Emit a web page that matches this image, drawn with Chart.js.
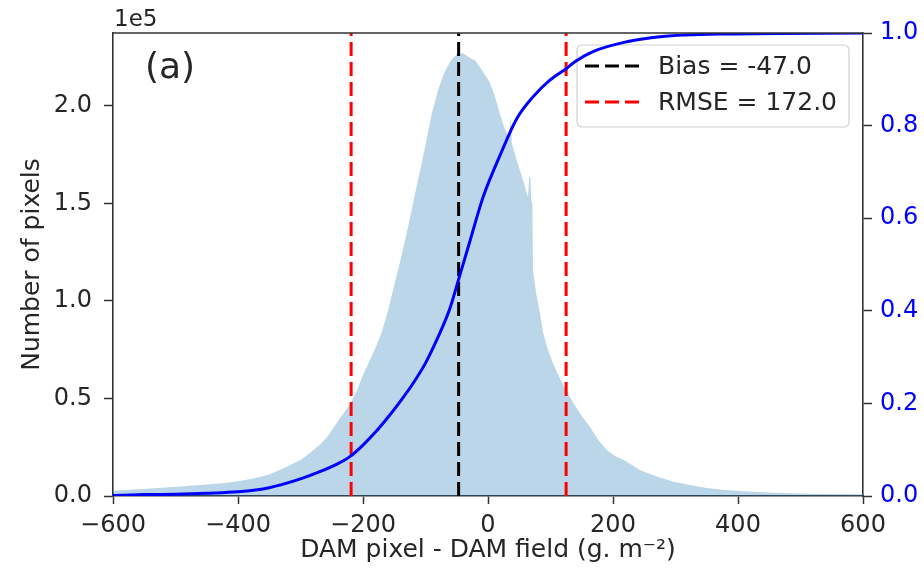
<!DOCTYPE html>
<html>
<head>
<meta charset="utf-8">
<script src="https://cdn.jsdelivr.net/npm/chart.js@4"></script>
<style>
html,body{margin:0;padding:0;background:#ffffff;}
#wrap{position:relative;width:924px;height:581px;}
</style>
</head>
<body>
<div id="wrap"><canvas id="c" width="924" height="581"></canvas></div>
<script>
// ---- data ----
const histX = [-600,-552,-498,-450,-425,-400,-375,-350,-325,-300,-285,-270,-258,-245,-232,-221,-210,-200,-190,-180,-170,-160,-150,-140,-130,-120,-110,-100,-90,-80,-70,-60,-50,-40,-30,-20,-13,-5,3,10,19,25,30,34,36,38,46,56,64,66,68,69,71,72,77,83,88,95,104,114,124,136,150,163,176,190,203,217,230,243,270,297,325,350,375,403,430,457,485,510,550,590,600];
const histY = [2700,3600,4800,5900,6500,7500,9000,11000,14500,18500,22000,26000,30000,36000,42000,47000,54000,62000,69000,76000,84000,95000,108000,121000,135000,150000,165000,180000,196000,208000,217000,223000,226500,227000,225000,223000,220000,216000,212000,206000,196000,190000,186000,183000,195000,181000,172000,162000,153000,164000,163000,152000,150000,116000,104000,94000,84000,76000,68000,61000,55000,48000,41000,35500,29000,23600,20500,18500,16000,13300,10000,7300,5500,4100,3200,2600,2100,1700,1400,1200,1000,900,800];
const cdfX = [-600,-550,-500,-450,-400,-350,-300,-270,-240,-221,-200,-180,-160,-140,-120,-100,-82,-61,-47,-29,-8,19,46,72,99,126,139,168,222,275,382,600];
const cdfY = [0.001,0.003,0.004,0.006,0.009,0.018,0.037,0.052,0.07,0.085,0.11,0.138,0.17,0.205,0.243,0.287,0.337,0.405,0.468,0.55,0.645,0.735,0.815,0.862,0.898,0.924,0.938,0.96,0.981,0.992,0.998,1.0];
const biasValue = -47.0;
const rmseValue = 172.0;
const xTicks = [-600,-400,-200,0,200,400,600];
const yTicks = [0,50000,100000,150000,200000];
const y2Ticks = [0,0.2,0.4,0.6,0.8,1.0];
const yMax = 237400;
const biasLabel = 'Bias = ' + biasValue.toFixed(1);
const rmseLabel = 'RMSE = ' + rmseValue.toFixed(1);

const FONT = "'DejaVu Sans', sans-serif";
const TXT = '#262626';

const histData = histX.map((x,i)=>({x:x,y:histY[i]}));
const cdfData = cdfX.map((x,i)=>({x:x,y:cdfY[i]}));
const biasData = [{x:biasValue,y:0},{x:biasValue,y:1}];
const rmseData = [
  {x:biasValue-rmseValue,y:0},{x:biasValue-rmseValue,y:1},
  {x:biasValue,y:null},
  {x:biasValue+rmseValue,y:0},{x:biasValue+rmseValue,y:1}
];

const overlay = {
  id:'overlay',
  beforeDatasetsDraw(chart){
    const ctx = chart.ctx, a = chart.chartArea;
    const bx = a.right - 286, by = a.top + 12, bw = 272, bh = 82, r = 5;
    ctx.save();
    ctx.beginPath();
    ctx.moveTo(bx+r,by); ctx.lineTo(bx+bw-r,by); ctx.arcTo(bx+bw,by,bx+bw,by+r,r);
    ctx.lineTo(bx+bw,by+bh-r); ctx.arcTo(bx+bw,by+bh,bx+bw-r,by+bh,r);
    ctx.lineTo(bx+r,by+bh); ctx.arcTo(bx,by+bh,bx,by+bh-r,r);
    ctx.lineTo(bx,by+r); ctx.arcTo(bx,by,bx+r,by,r);
    ctx.closePath();
    ctx.fillStyle='rgba(255,255,255,0.8)'; ctx.fill();
    ctx.strokeStyle='#d0d0d0'; ctx.lineWidth=1.2; ctx.stroke();
    const rows = [
      {label: chart.data.datasets[1].label, color: chart.data.datasets[1].borderColor, y: by+21},
      {label: chart.data.datasets[2].label, color: chart.data.datasets[2].borderColor, y: by+57}
    ];
    rows.forEach(rw=>{
      ctx.beginPath();
      ctx.setLineDash([14,6]);
      ctx.lineWidth=3; ctx.strokeStyle=rw.color;
      ctx.moveTo(bx+8,rw.y); ctx.lineTo(bx+62,rw.y); ctx.stroke();
      ctx.setLineDash([]);
      ctx.fillStyle=TXT; ctx.font='25px '+FONT; ctx.textBaseline='middle'; ctx.textAlign='left';
      ctx.fillText(rw.label, bx+81, rw.y+1);
    });
    ctx.restore();
  },
  afterDraw(chart){
    const ctx = chart.ctx, a = chart.chartArea;
    ctx.save();
    ctx.strokeStyle='#333'; ctx.lineWidth=1.6;
    ctx.beginPath(); ctx.moveTo(a.left-0.5,a.top); ctx.lineTo(a.right+0.5,a.top); ctx.stroke();
    ctx.fillStyle=TXT; ctx.textAlign='left'; ctx.textBaseline='alphabetic';
    ctx.font='23px '+FONT;
    ctx.fillText('1e5', a.left+1, a.top-7);
    ctx.font='36px '+FONT;
    ctx.fillText('(a)', a.left+32, a.top+45);
    ctx.restore();
  }
};

Chart.defaults.font.family = FONT;

new Chart(document.getElementById('c'), {
  type:'line',
  data:{
    datasets:[
      {label:'CDF', data:cdfData, yAxisID:'y2', borderColor:'#0000ff', borderWidth:3, pointRadius:0, fill:false, cubicInterpolationMode:'monotone'},
      {label:biasLabel, data:biasData, yAxisID:'y2', borderColor:'#000000', borderWidth:3, borderDash:[14,6], pointRadius:0, fill:false},
      {label:rmseLabel, data:rmseData, yAxisID:'y2', borderColor:'#ff0000', borderWidth:3, borderDash:[14,6], pointRadius:0, fill:false, spanGaps:false},
      {label:'hist', data:histData, yAxisID:'y', borderColor:'rgba(0,0,0,0)', borderWidth:0, pointRadius:0, fill:'origin', backgroundColor:'rgba(31,119,180,0.3)', tension:0}
    ]
  },
  options:{
    responsive:false,
    animation:false,
    devicePixelRatio:1,
    layout:{padding:{top:33,left:0,right:0,bottom:0}},
    plugins:{legend:{display:false}, tooltip:{enabled:false}},
    scales:{
      x:{
        type:'linear', position:'bottom', min:-600, max:600,
        afterBuildTicks:s=>{ s.ticks = xTicks.map(v=>({value:v})); },
        afterFit:s=>{ s.height = 85; },
        ticks:{font:{size:24}, color:TXT, padding:7, maxRotation:0,
          callback:v=> v<0 ? '\u2212'+Math.abs(v) : String(v)},
        grid:{drawOnChartArea:false, drawTicks:true, tickLength:8, tickColor:'#333', tickWidth:1.5},
        border:{display:true, color:'#333', width:1.6},
        title:{display:true, text:'DAM pixel - DAM field (g. m\u207B\u00B2)', font:{size:25}, color:TXT, padding:{top:0,bottom:16}}
      },
      y:{
        type:'linear', position:'left', min:0, max:yMax,
        afterBuildTicks:s=>{ s.ticks = yTicks.map(v=>({value:v})); },
        afterFit:s=>{ s.width = 113; },
        ticks:{font:{size:24}, color:TXT, padding:12, callback:v=>(v/1e5).toFixed(1)},
        grid:{drawOnChartArea:false, drawTicks:true, tickLength:9, tickColor:'#333', tickWidth:1.5},
        border:{display:true, color:'#333', width:1.6},
        title:{display:true, text:'Number of pixels', font:{size:25}, color:TXT, padding:{top:17,bottom:0}}
      },
      y2:{
        type:'linear', position:'right', min:0, max:1,
        afterBuildTicks:s=>{ s.ticks = y2Ticks.map(v=>({value:v})); },
        afterFit:s=>{ s.width = 61; },
        ticks:{font:{size:24}, color:'#0000ff', padding:8, callback:v=>Number(v).toFixed(1)},
        grid:{drawOnChartArea:false, drawTicks:true, tickLength:9, tickColor:'#333', tickWidth:1.5},
        border:{display:true, color:'#333', width:1.6}
      }
    }
  },
  plugins:[overlay]
});
</script>
</body>
</html>
